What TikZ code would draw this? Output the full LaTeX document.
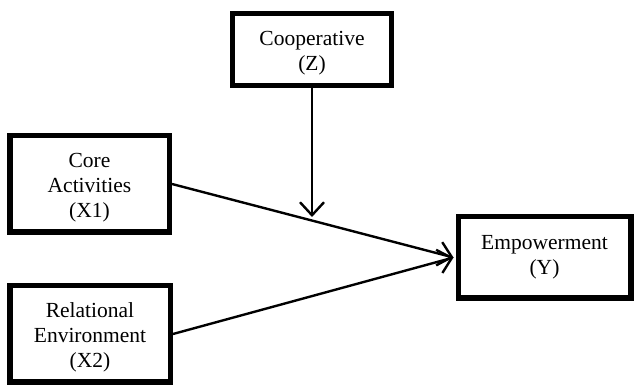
\documentclass[tikz,border=0pt]{standalone}
\usepackage{fontspec}
\setmainfont{Liberation Serif}
\usetikzlibrary{arrows.meta}
\newcommand{\dropstrut}{\rule{0pt}{22.5pt}}
\begin{document}
\begin{tikzpicture}[x=1pt,y=-1pt,
  varbox/.style={draw,line width=5.5pt,fill=white,align=center,inner sep=0pt,
    font=\fontsize{21.5}{25}\selectfont},
  link/.style={line width=2.4pt,-{Straight Barb[length=13pt,width=24pt,line width=2.4pt]}}]
\useasboundingbox (0,0) rectangle (635,387);
\node[varbox,minimum width=159pt,minimum height=72pt] (coop) at (312,49.5) {\dropstrut Cooperative\\(Z)};
\node[varbox,minimum width=159.5pt,minimum height=96.5pt] (core) at (89.5,184) {\dropstrut Core\\Activities\\(X1)};
\node[varbox,minimum width=160.5pt,minimum height=96.5pt] (rel) at (90,334) {\dropstrut Relational\\Environment\\(X2)};
\node[varbox,minimum width=172.5pt,minimum height=81.5pt] (emp) at (544.5,257.5) {Empowerment\\(Y)};
\coordinate (mid) at (312,217);
\draw[link] (core.east) -- ([xshift=-2pt]emp.west);
\draw[link] (rel.east) -- ([xshift=-2pt]emp.west);
\draw[link] (coop.south -| mid) -- (mid);
\end{tikzpicture}
\end{document}
